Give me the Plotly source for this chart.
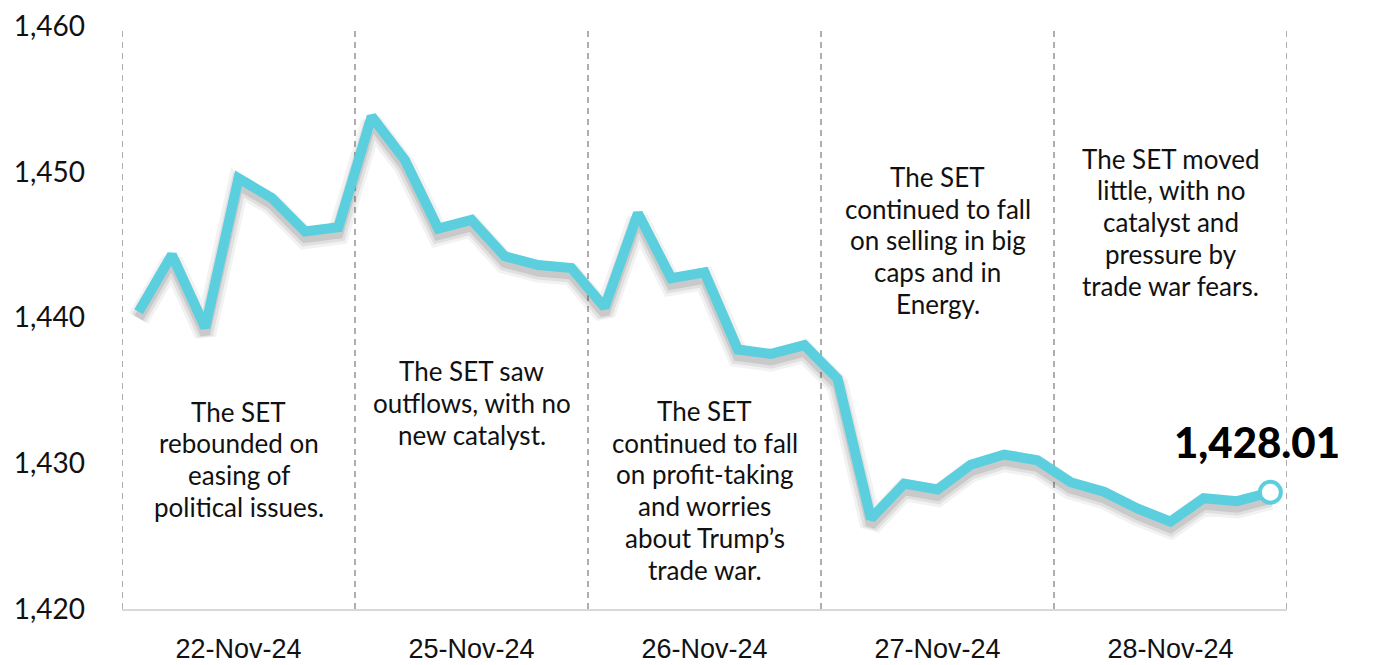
import plotly.graph_objects as go

# ---- data ----
dates = ["22-Nov-24", "25-Nov-24", "26-Nov-24", "27-Nov-24", "28-Nov-24"]
points_per_day = 7
set_index = [
    1440.4, 1444.3, 1439.3, 1449.55, 1448.2, 1445.9, 1446.2,
    1453.8, 1450.8, 1446.1, 1446.7, 1444.2, 1443.6, 1443.4,
    1440.7, 1447.15, 1442.7, 1443.1, 1437.8, 1437.5, 1438.1,
    1435.8, 1426.2, 1428.6, 1428.2, 1429.9, 1430.6, 1430.2,
    1428.7, 1428.05, 1426.9, 1426.0, 1427.6, 1427.4, 1428.01,
]
notes = [
    ["The SET", "rebounded on", "easing of", "political issues."],
    ["The SET saw", "outflows, with no", "new catalyst."],
    ["The SET", "continued to fall", "on profit-taking", "and worries", "about Trump’s", "trade war."],
    ["The SET", "continued to fall", "on selling in big", "caps and in", "Energy."],
    ["The SET moved", "little, with no", "catalyst and", "pressure by", "trade war fears."],
]
note_top = [1433.55, 1436.3, 1433.6, 1449.65, 1450.9]
last_label = "1,428.01"
y_ticks = [1420, 1430, 1440, 1450, 1460]

# ---- styles ----
CYAN = "#5ccfdf"
TXT = "#111111"
NOTE_FONT = "Lato, 'Open Sans', sans-serif"
LINE_STEP = 2.18   # data units between note lines
Y_RANGE = [1420, 1460]
SHADOW_SHIFT = 0.45

x = list(range(len(set_index)))
n_days = len(dates)
day_centers = [d * points_per_day + (points_per_day - 1) / 2 for d in range(n_days)]
boundaries = [d * points_per_day - 0.5 for d in range(n_days + 1)]

fig = go.Figure()

# drop shadow (same data on a slightly shifted overlay axis)
for w, a in [(22, 0.05), (16, 0.07), (10, 0.10)]:
    fig.add_trace(go.Scatter(
        x=x, y=set_index, mode="lines", yaxis="y2",
        line=dict(color=f"rgba(0,0,0,{a})", width=w),
        hoverinfo="skip", showlegend=False,
    ))

fig.add_trace(go.Scatter(
    x=x, y=set_index, mode="lines", yaxis="y3",
    line=dict(color=CYAN, width=10),
    showlegend=False,
))
fig.add_trace(go.Scatter(
    x=[x[-1]], y=[set_index[-1]], mode="markers", yaxis="y3",
    marker=dict(size=21, color="white", line=dict(color=CYAN, width=4)),
    showlegend=False,
))

# dashed day separators
for b in boundaries:
    fig.add_shape(type="line", xref="x", yref="y", x0=b, x1=b,
                  y0=Y_RANGE[0], y1=Y_RANGE[1],
                  line=dict(color="#949494", width=1.5, dash="6px,5px"),
                  layer="below")

# notes
for dc, lines, top in zip(day_centers, notes, note_top):
    for i, t in enumerate(lines):
        fig.add_annotation(x=dc, y=top - i * LINE_STEP, xref="x", yref="y",
                           text=t, showarrow=False, xanchor="center", yanchor="middle",
                           font=dict(family=NOTE_FONT, size=26, color=TXT))

fig.add_annotation(x=x[-1], y=set_index[-1], xref="x", yref="y",
                   text=last_label, showarrow=False,
                   xanchor="center", yanchor="middle", xshift=-13, yshift=50,
                   font=dict(family="Lato, sans-serif", size=42, color="#000000", weight=900))

fig.update_layout(
    width=1367, height=657,
    margin=dict(l=114, r=88, t=18, b=56, autoexpand=False),
    paper_bgcolor="white", plot_bgcolor="white",
    xaxis=dict(
        range=[boundaries[0], boundaries[-1]],
        tickmode="array", tickvals=day_centers, ticktext=dates,
        showgrid=False, zeroline=False, automargin=False,
        showline=True, linecolor="#d9d9d9", linewidth=2,
        ticks="", ticklabelstandoff=15, ticklabeloverflow="allow",
        tickfont=dict(family="'Liberation Sans Narrow', 'Arial Narrow', 'Liberation Sans', sans-serif",
                      size=27, color=TXT),
    ),
    yaxis=dict(
        range=Y_RANGE, tickmode="array", tickvals=y_ticks, tickformat=",",
        showgrid=False, zeroline=False, showline=False, ticks="", automargin=False,
        ticklabelstandoff=36, ticklabeloverflow="allow",
        tickfont=dict(family=NOTE_FONT, size=28, color=TXT),
    ),
    yaxis2=dict(
        range=[Y_RANGE[0] + SHADOW_SHIFT, Y_RANGE[1] + SHADOW_SHIFT],
        overlaying="y", visible=False,
    ),
    yaxis3=dict(range=Y_RANGE, overlaying="y", visible=False),
)

fig.write_html("out.html")
